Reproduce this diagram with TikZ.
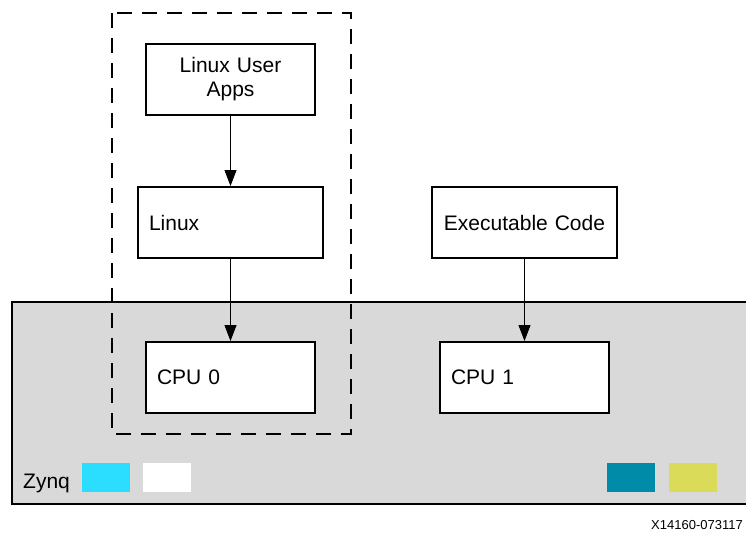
\documentclass[tikz,border=0pt]{standalone}
\usepackage{fontspec}
\setmainfont{Liberation Sans}
\usetikzlibrary{arrows.meta,positioning}
\definecolor{zynqgrey}{HTML}{D9D9D9}
\definecolor{zynqcyan}{HTML}{2BDDFF}
\definecolor{zynqteal}{HTML}{008CA8}
\definecolor{zynqyellow}{HTML}{DADB58}

\begin{document}
\begin{tikzpicture}[x=1pt,y=-1pt,font=\fontsize{21}{24}\selectfont,
    blockbox/.style={draw=black,fill=white,line width=2pt,anchor=north west,
      minimum height=71pt,inner xsep=11pt,inner ysep=0pt},
    flow/.style={-{Triangle[length=16pt,width=12pt]},line width=1pt}]
        \useasboundingbox (0,0) rectangle (746,533);
        \clip (0,0) rectangle (746,533);

        % Zynq device
        \draw[fill=zynqgrey,line width=2.5pt] (12,302) rectangle (770,504);
        \node[anchor=base west,inner sep=0pt] (zynq) at (23,488) {Zynq};
        \foreach \x/\col in {82/zynqcyan,143/white,607/zynqteal,669/zynqyellow}
          \fill[\col] (\x,463) rectangle ++(48,29);

        % Linux side
        \draw[line width=2.5pt,dash pattern=on 15pt off 10pt] (112,13) rectangle (351,434);
        \node[blockbox,text width=147pt,align=center] (apps) at (145,43) {Linux User\\Apps};
        \node[blockbox,text width=163pt,align=left] (linux) at (137,186) {Linux};
        \node[blockbox,text width=147pt,align=left] (cpu0) at (145,341) {CPU 0};

        % bare-metal side
        \node[blockbox,text width=163pt,align=center] (exec) at (431,186) {Executable Code};
        \node[blockbox,text width=147pt,align=left] (cpu1) at (439,341) {CPU 1};

        \draw[flow] (apps) -- (linux);
        \draw[flow] (linux) -- (cpu0);
        \draw[flow] (exec) -- (cpu1);

        \node[anchor=base east,inner sep=0pt,font=\fontsize{13}{15}\selectfont] (figid) at (743,529) {X14160-073117};
      \end{tikzpicture}
\end{document}
